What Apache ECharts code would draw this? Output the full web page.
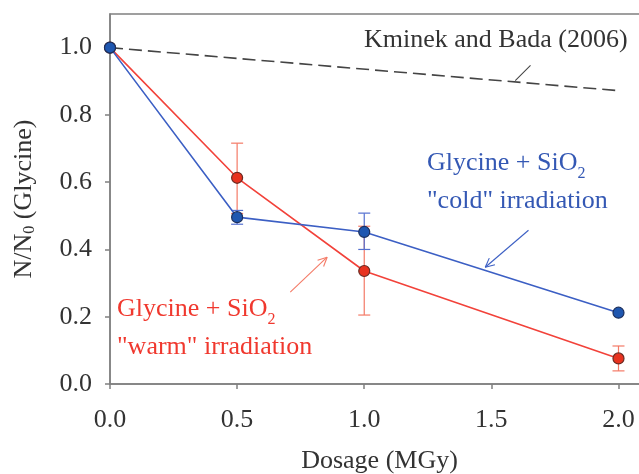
<!DOCTYPE html>
<html>
<head>
<meta charset="utf-8">
<script src="https://cdn.jsdelivr.net/npm/echarts@6/dist/echarts.min.js"></script>
<style>
  html, body { margin: 0; padding: 0; background: #fff; }
  #chart { width: 639px; height: 474px; }
</style>
</head>
<body>
<div id="chart"></div>
<script>
  var DOSE = [0.0, 0.5, 1.0, 2.0];
  var WARM = [1.0, 0.613, 0.336, 0.076];
  var WARM_LOW = [null, 0.507, 0.205, 0.039];
  var WARM_HIGH = [null, 0.716, 0.469, 0.113];
  var COLD = [1.0, 0.496, 0.452, 0.212];
  var COLD_LOW = [null, 0.475, 0.400, null];
  var COLD_HIGH = [null, 0.516, 0.508, null];
  var KMINEK_X = [0.0, 2.0];
  var KMINEK_Y = [1.0, 0.872];
  // annotation arrows: [x1, y1, x2, y2], head at (x2, y2)
  var ARROWS_RED = [[0.709, 0.273, 0.854, 0.377]];
  var ARROWS_BLUE = [[1.646, 0.457, 1.476, 0.347]];
  var LEADER = [[1.654, 0.947, 1.594, 0.902]];

  var FONT = '"Liberation Serif", "Times New Roman", serif';
  var RED = '#f2423a';
  var RED_ERR = '#f47a66';
  var BLUE = '#3c5fc4';
  var BLUE_ERR = '#5470d0';
  var AXIS = '#808080';
  var TXT = '#333';

  function pairs(xs, ys) {
    return xs.map(function (x, i) { return [x, ys[i]]; });
  }
  function errData(low, high) {
    var out = [];
    DOSE.forEach(function (x, i) {
      if (low[i] != null) out.push([x, low[i], high[i]]);
    });
    return out;
  }

  function errSeries(data, color) {
    return {
      type: 'custom',
      data: data,
      silent: true,
      z: 3,
      renderItem: function (params, api) {
        var lo = api.coord([api.value(0), api.value(1)]);
        var hi = api.coord([api.value(0), api.value(2)]);
        var w = 6;
        var st = { stroke: color, lineWidth: 1.2 };
        return {
          type: 'group',
          children: [
            { type: 'line', shape: { x1: lo[0], y1: lo[1], x2: hi[0], y2: hi[1] }, style: st },
            { type: 'line', shape: { x1: lo[0] - w, y1: lo[1], x2: lo[0] + w, y2: lo[1] }, style: st },
            { type: 'line', shape: { x1: hi[0] - w, y1: hi[1], x2: hi[0] + w, y2: hi[1] }, style: st }
          ]
        };
      }
    };
  }

  function arrowSeries(data, color, head) {
    return {
      type: 'custom',
      data: data,
      silent: true,
      z: 4,
      renderItem: function (params, api) {
        var a = api.coord([api.value(0), api.value(1)]);
        var b = api.coord([api.value(2), api.value(3)]);
        var st = { stroke: color, lineWidth: 1.1 };
        var kids = [{ type: 'line', shape: { x1: a[0], y1: a[1], x2: b[0], y2: b[1] }, style: st }];
        if (head) {
          var ang = Math.atan2(b[1] - a[1], b[0] - a[0]);
          var L = 10, sp = 0.45;
          [ang + Math.PI - sp, ang + Math.PI + sp].forEach(function (t) {
            kids.push({ type: 'line', shape: { x1: b[0], y1: b[1], x2: b[0] + L * Math.cos(t), y2: b[1] + L * Math.sin(t) }, style: st });
          });
        }
        return { type: 'group', children: kids };
      }
    };
  }

  function label2(color) {
    return {
      a: { fontFamily: FONT, fontSize: 26, fill: color, lineHeight: 38 },
      b: { fontFamily: FONT, fontSize: 16, fill: color, verticalAlign: 'bottom', padding: [13, 0, 0, 0], lineHeight: 38 }
    };
  }

  var chart = echarts.init(document.getElementById('chart'), null, { renderer: 'canvas' });

  chart.setOption({
    backgroundColor: '#fff',
    animation: false,
    textStyle: { fontFamily: FONT },
    grid: {
      left: 110, top: 14, width: 539, height: 370,
      show: true, borderColor: AXIS, borderWidth: 1.5,
      containLabel: false, outerBoundsMode: 'none'
    },
    xAxis: {
      type: 'value', min: 0, max: 2.12, interval: 0.5,
      name: 'Dosage (MGy)', nameLocation: 'middle', nameGap: 64,
      nameTextStyle: { fontFamily: FONT, fontSize: 26, color: TXT },
      axisLine: { show: true, lineStyle: { color: AXIS, width: 1.5 } },
      axisTick: { show: true, length: 5, lineStyle: { color: AXIS, width: 1.5 } },
      axisLabel: {
        fontFamily: FONT, fontSize: 26, color: TXT, margin: 23,
        showMaxLabel: false,
        formatter: function (v) { return v.toFixed(1); }
      },
      splitLine: { show: false }
    },
    yAxis: {
      type: 'value', min: 0, max: 1.1, interval: 0.2,
      name: '{n|N/N}{s|0}{n| (Glycine)}', nameLocation: 'middle', nameGap: 72, nameRotate: 90,
      nameTextStyle: {
        fontFamily: FONT, color: TXT,
        rich: {
          n: { fontFamily: FONT, fontSize: 26, color: TXT },
          s: { fontFamily: FONT, fontSize: 16, color: TXT, verticalAlign: 'bottom', padding: [12, 0, 0, 0] }
        }
      },
      axisLine: { show: true, lineStyle: { color: AXIS, width: 1.5 } },
      axisTick: { show: true, length: 5, lineStyle: { color: AXIS, width: 1.5 } },
      axisLabel: {
        fontFamily: FONT, fontSize: 26, color: TXT, margin: 18,
        showMaxLabel: false,
        formatter: function (v) { return v.toFixed(1); }
      },
      splitLine: { show: false }
    },
    series: [
      {
        type: 'line', name: 'Kminek and Bada (2006)',
        data: pairs(KMINEK_X, KMINEK_Y),
        showSymbol: false, silent: true, z: 2,
        lineStyle: { color: '#444', width: 1.6, type: [13, 6] }
      },
      arrowSeries(LEADER, '#444', false),
      errSeries(errData(WARM_LOW, WARM_HIGH), RED_ERR),
      errSeries(errData(COLD_LOW, COLD_HIGH), BLUE_ERR),
      {
        type: 'line', name: 'warm',
        data: pairs(DOSE, WARM),
        symbol: 'circle', symbolSize: 11, z: 5,
        lineStyle: { color: RED, width: 1.6 },
        itemStyle: { color: '#e8321f', borderColor: '#6a2a22', borderWidth: 1.2 }
      },
      {
        type: 'line', name: 'cold',
        data: pairs(DOSE, COLD),
        symbol: 'circle', symbolSize: 11, z: 6,
        lineStyle: { color: BLUE, width: 1.6 },
        itemStyle: { color: '#1f57b0', borderColor: '#1c2f5c', borderWidth: 1.2 }
      },
      arrowSeries(ARROWS_RED, RED_ERR, true),
      arrowSeries(ARROWS_BLUE, BLUE, true)
    ],
    graphic: [
      {
        type: 'text', left: 364, top: 27,
        style: { text: 'Kminek and Bada (2006)', font: '26px ' + FONT, fill: TXT }
      },
      {
        type: 'text', left: 427, top: 150,
        style: {
          text: '{a|Glycine + SiO}{b|2}\n{a|"cold" irradiation}',
          rich: label2('#3458b4')
        }
      },
      {
        type: 'text', left: 117, top: 296,
        style: {
          text: '{a|Glycine + SiO}{b|2}\n{a|"warm" irradiation}',
          rich: label2('#f0382e')
        }
      }
    ]
  });
</script>
</body>
</html>
